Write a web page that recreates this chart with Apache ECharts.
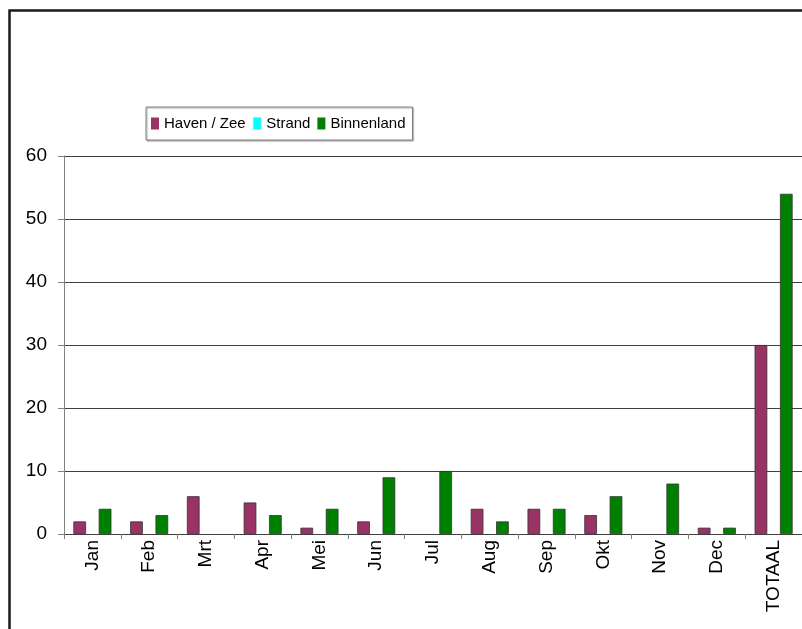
<!DOCTYPE html>
<html>
<head>
<meta charset="utf-8">
<script src="https://cdn.jsdelivr.net/npm/echarts@6/dist/echarts.min.js"></script>
<style>
html,body{margin:0;padding:0;background:#fff;}
#chart{width:802px;height:629px;}
</style>
</head>
<body>
<div id="chart"></div>
<script>
var categories = ['Jan','Feb','Mrt','Apr','Mei','Jun','Jul','Aug','Sep','Okt','Nov','Dec','TOTAAL'];
var havenZee   = [2, 2, 6, 5, 1, 2, 0, 4, 4, 3, 0, 1, 30];
var strand     = [0, 0, 0, 0, 0, 0, 0, 0, 0, 0, 0, 0, 0];
var binnenland = [4, 3, 0, 3, 4, 9, 10, 2, 4, 6, 8, 1, 54];
var seriesNames = ['Haven / Zee', 'Strand', 'Binnenland'];
var yTicks = [0, 10, 20, 30, 40, 50, 60];

function toData(arr) {
  return arr.map(function (v) {
    return v === 0 ? {value: v, itemStyle: {borderWidth: 0}} : v;
  });
}

var chart = echarts.init(document.getElementById('chart'), null, {renderer: 'canvas'});
var font = 'Arial, "Liberation Sans", sans-serif';
chart.setOption({
  animation: false,
  backgroundColor: '#fff',
  graphic: [{
    type: 'rect',
    shape: {x: 9.5, y: 10.5, width: 1000, height: 1000},
    style: {fill: 'none', stroke: '#1a1a1a', lineWidth: 2.5},
    z: 100
  }],
  legend: {
    left: 146, top: 107,
    padding: [9, 7, 9, 5],
    itemGap: 7,
    itemWidth: 8, itemHeight: 12,
    borderColor: '#808080', borderWidth: 1,
    shadowColor: 'rgba(0,0,0,0.35)', shadowOffsetX: 1, shadowOffsetY: 1, shadowBlur: 1,
    backgroundColor: '#fff',
    textStyle: {fontFamily: font, fontSize: 15, color: '#000'},
    data: [
      {name: seriesNames[0], icon: 'rect', itemStyle: {borderWidth: 0}},
      {name: seriesNames[1], icon: 'rect', itemStyle: {borderColor: '#99eeee', borderWidth: 1}},
      {name: seriesNames[2], icon: 'rect', itemStyle: {borderWidth: 0}}
    ]
  },
  grid: {left: 64, top: 156, width: 738, height: 378, containLabel: false, show: false},
  xAxis: {
    type: 'category',
    data: categories,
    boundaryGap: true,
    axisLine: {show: true, lineStyle: {color: '#404040', width: 1}},
    axisTick: {show: true, inside: false, length: 5, alignWithLabel: false, lineStyle: {color: '#808080'}},
    axisLabel: {rotate: 90, margin: 6, fontFamily: font, fontSize: 19, color: '#000', interval: 0},
    splitLine: {show: false}
  },
  yAxis: {
    type: 'value',
    min: 0, max: 60, interval: 10,
    axisLine: {show: true, lineStyle: {color: '#808080', width: 1}},
    axisTick: {show: true, length: 6, lineStyle: {color: '#808080'}},
    axisLabel: {margin: 17, fontFamily: font, fontSize: 19, color: '#000',
      formatter: function (v) { return yTicks.indexOf(v) >= 0 ? String(v) : ''; }},
    splitLine: {show: true, lineStyle: {color: '#404040', width: 1}}
  },
  series: [
    {name: seriesNames[0], type: 'bar', data: toData(havenZee), barGap: '0%', barCategoryGap: '33%',
     itemStyle: {color: '#993366', borderColor: '#333', borderWidth: 0.8}},
    {name: seriesNames[1], type: 'bar', data: toData(strand), barGap: '0%', barCategoryGap: '33%',
     itemStyle: {color: '#00ffff', borderColor: '#66cccc', borderWidth: 0}},
    {name: seriesNames[2], type: 'bar', data: toData(binnenland), barGap: '0%', barCategoryGap: '33%',
     itemStyle: {color: '#008000', borderColor: '#333', borderWidth: 0.8}}
  ]
});
</script>
</body>
</html>
